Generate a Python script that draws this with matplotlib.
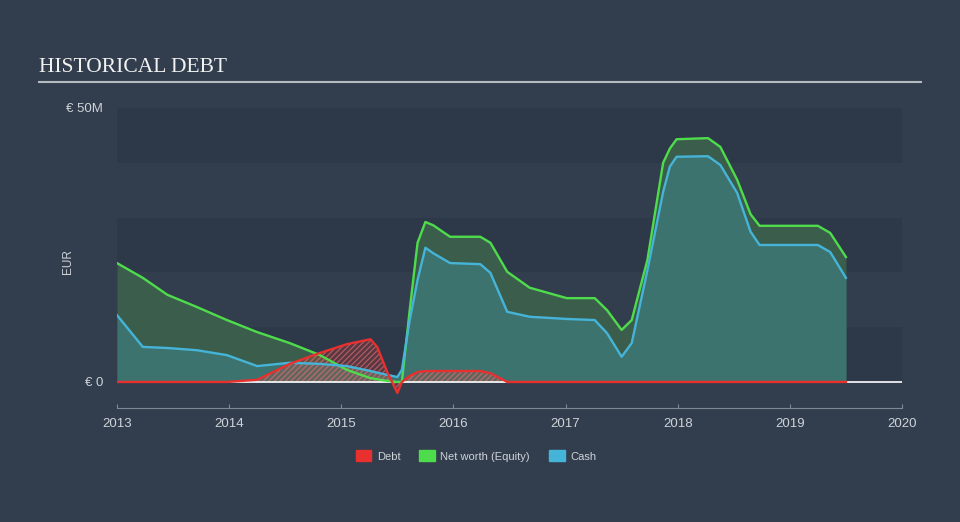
import numpy as np
import matplotlib
matplotlib.use("Agg")
from matplotlib import pyplot as plt
from matplotlib.patches import Patch

# values in millions of EUR
years = [2013.0, 2013.23, 2013.45, 2013.71, 2013.98, 2014.25, 2014.54, 2014.81,
         2015.05, 2015.26, 2015.32, 2015.41, 2015.50, 2015.54, 2015.61, 2015.68,
         2015.75, 2015.82, 2015.97, 2016.24, 2016.33, 2016.48, 2016.68, 2017.01,
         2017.26, 2017.37, 2017.50, 2017.59, 2017.73, 2017.87, 2017.93, 2017.99,
         2018.27, 2018.38, 2018.53, 2018.65, 2018.73, 2019.25, 2019.36, 2019.50]
debt = [0, 0, 0, 0, 0, 0.4, 3.3, 5.3,
        6.9, 7.8, 6.4, 1.8, -2.0, 0, 1.1, 1.8,
        2.0, 2.0, 2.0, 2.0, 1.6, 0, 0, 0,
        0, 0, 0, 0, 0, 0, 0, 0,
        0, 0, 0, 0, 0, 0, 0, 0]
equity = [21.7, 19.0, 15.9, 13.7, 11.3, 9.1, 7.1, 4.9,
          2.2, 0.7, 0.5, 0.2, 0, 0, 13.1, 25.4,
          29.2, 28.6, 26.5, 26.5, 25.4, 20.1, 17.2, 15.3,
          15.3, 13.1, 9.5, 11.3, 22.3, 40.0, 42.6, 44.3,
          44.5, 42.9, 36.9, 30.6, 28.5, 28.5, 27.2, 22.8]
cash = [12.2, 6.4, 6.2, 5.8, 4.9, 2.9, 3.5, 3.3,
        2.9, 2.0, 1.7, 1.3, 0.9, 2.2, 11.3, 18.6,
        24.5, 23.5, 21.7, 21.5, 19.9, 12.8, 11.9, 11.5,
        11.3, 8.9, 4.6, 7.1, 20.4, 34.7, 39.3, 41.1,
        41.2, 39.6, 34.5, 27.4, 25.0, 25.0, 23.7, 19.0]
xticks = [2013, 2014, 2015, 2016, 2017, 2018, 2019, 2020]

bg = "#323e4e"
band = "#2d3948"
c_debt = "#e8302e"
c_eq = "#4fdc4c"
c_cash = "#46b4d8"
txt = "#cfd3d8"

fig = plt.figure(figsize=(9.6, 5.22), dpi=100, facecolor=bg)
ax = fig.add_axes([117/960, 1-408/522, 785/960, 300/522])
ax.set_facecolor(bg)

for lo in (0, 20, 40):
    ax.axhspan(lo, lo + 10, color=band, lw=0, zorder=0)

ax.fill_between(years, 0, equity, color="#3a5e4b", lw=0, zorder=1)
ax.fill_between(years, 0, cash, color="#3c736e", lw=0, zorder=2)
ax.fill_between(years, 0, debt, facecolor=(0.91, 0.19, 0.18, 0.22),
                edgecolor=(0.95, 0.45, 0.45, 0.55), hatch="//////", lw=0, zorder=3)
ax.axhline(0, color="white", lw=1.2, zorder=4)

ax.plot(years, equity, color=c_eq, lw=1.7, zorder=5, solid_joinstyle="round")
ax.plot(years, cash, color=c_cash, lw=1.7, zorder=6, solid_joinstyle="round")
ax.plot(years, debt, color=c_debt, lw=1.7, zorder=7, solid_joinstyle="round")

ax.set_xlim(2013, 2020)
ax.set_ylim(-4.75, 50)
ax.set_xticks(xticks)
ax.set_xticklabels([str(y) for y in xticks])
ax.set_yticks([0, 50])
ax.set_yticklabels(["€ 0", "€ 50M"])
for s in ("top", "right", "left"):
    ax.spines[s].set_visible(False)
ax.spines["bottom"].set_color("#7f8893")
ax.tick_params(axis="x", direction="in", length=3, color="#7f8893",
               labelcolor=txt, labelsize=9.5, pad=7)
ax.tick_params(axis="y", length=0, labelcolor=txt, labelsize=9.5, pad=10)
for lab in ax.get_xticklabels() + ax.get_yticklabels():
    lab.set_family("Liberation Sans")

fig.text(68/960, 1-262/522, "EUR", rotation=90, color=txt, fontsize=8.5,
         family="Liberation Sans", ha="center", va="center")

fig.text(39/960, 1-67/522, "HISTORICAL DEBT", color="#f2f2f2", fontsize=15.5,
         family="Liberation Serif", ha="left", va="center")
fig.add_artist(plt.Line2D([39/960, 921/960], [1-82/522, 1-82/522],
                          color="#b5bac0", lw=1.5))

handles = [Patch(color=c_debt, label="Debt"),
           Patch(color=c_eq, label="Net worth (Equity)"),
           Patch(color=c_cash, label="Cash")]
leg = fig.legend(handles=handles, loc="center", bbox_to_anchor=(476/960, 1-456/522),
                 ncol=3, frameon=False, handlelength=1.4,
                 handleheight=1.1, handletextpad=0.5, columnspacing=1.7,
                 prop={"family": "Liberation Sans", "size": 8})
for t in leg.get_texts():
    t.set_color(txt)

fig.savefig("out.png", dpi=100, facecolor=bg)
